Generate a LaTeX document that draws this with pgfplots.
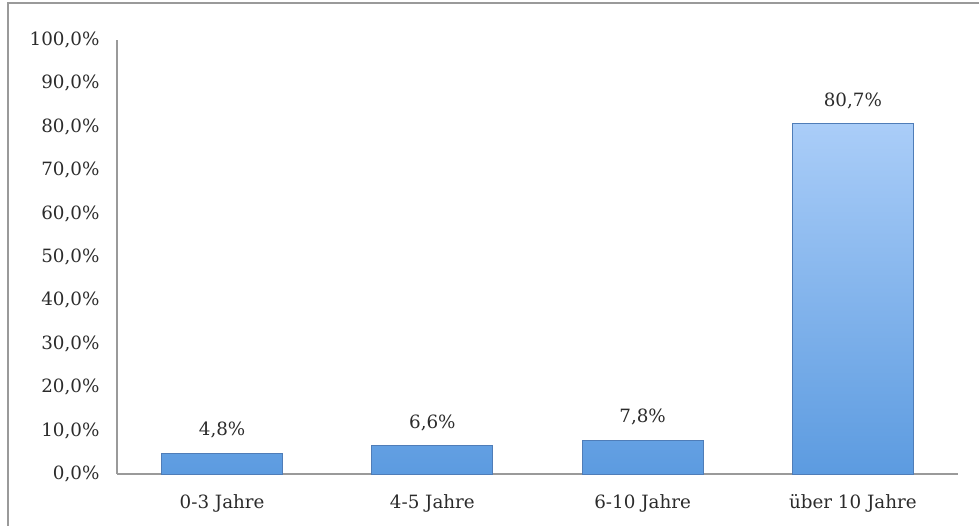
\documentclass[border=0pt]{standalone}
\usepackage{fontspec}
\setmainfont{DejaVu Serif}
\usepackage{pgfplots}
\pgfplotsset{compat=1.18}

\definecolor{axisgray}{HTML}{9A9A9A}
\definecolor{labeltext}{HTML}{2B2B2B}
\definecolor{bartop}{HTML}{AACDF8}
\definecolor{barbottom}{HTML}{5C9BE0}
\definecolor{baredge}{HTML}{4F7DB8}

\begin{document}
\begin{tikzpicture}[x=1pt,y=1pt]
  \path[use as bounding box] (0,0) rectangle (979,526);
  % frame of the chart area
  \draw[axisgray, line width=2pt] (8,0) -- (8,523) -- (979,523);

  \begin{axis}[
    at={(117pt,52pt)}, anchor=south west,
    scale only axis,
    width=841pt, height=434pt,
    ymin=0, ymax=100,
    xmin=-0.5, xmax=3.5,
    axis x line*=bottom, axis y line*=left,
    axis line style={axisgray, line width=2pt, -},
    ytick={0,10,...,100},
    xtick=data,
    xticklabels={0-3 Jahre, 4-5 Jahre, 6-10 Jahre, über 10 Jahre},
    major tick length=0pt,
    /pgf/number format/assume math mode=true,
    yticklabel={\pgfmathprintnumber[fixed,fixed zerofill,precision=1,use comma]{\tick}\%},
    yticklabel style={font=\fontsize{18.3}{22}\selectfont, text=labeltext, xshift=-14pt},
    xticklabel style={font=\fontsize{18.3}{22}\selectfont, text=labeltext, yshift=-17pt},
    ybar, bar width=121pt,
    nodes near coords={\pgfmathprintnumber[fixed,precision=1,use comma]{\pgfplotspointmeta}\%},
    nodes near coords style={font=\fontsize{18.3}{22}\selectfont, text=labeltext, anchor=south, yshift=11pt},
    clip=false,
  ]
    \addplot[draw=baredge, line width=0.8pt, top color=bartop, bottom color=barbottom]
      coordinates {(0,4.8) (1,6.6) (2,7.8) (3,80.7)};
  \end{axis}
\end{tikzpicture}
\end{document}
